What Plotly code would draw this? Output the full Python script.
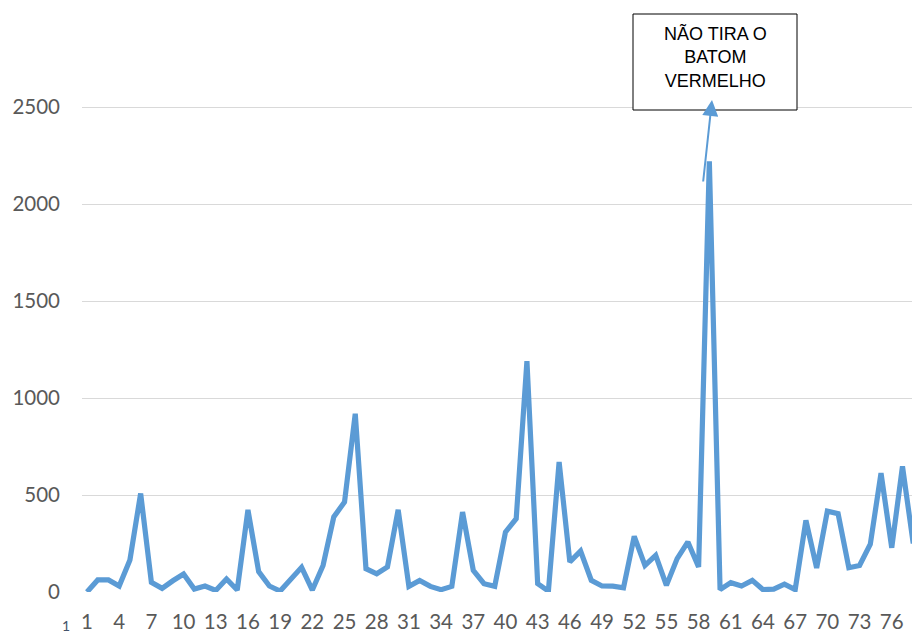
import plotly.graph_objects as go

categories = list(range(1, 79))
values = [0, 62, 62, 31, 165, 508, 50, 19, 58, 93,
          15, 31, 8, 67, 10, 423, 105, 31, 5, 67,
          127, 10, 137, 387, 464, 919, 120, 94, 129, 424,
          29, 60, 29, 12, 29, 412, 112, 43, 29, 309,
          378, 1190, 43, 5, 670, 155, 211, 60, 31, 30,
          22, 287, 137, 189, 34, 172, 258, 129, 2220, 12,
          48, 31, 60, 12, 15, 40, 12, 369, 124, 417,
          404, 125, 137, 246, 613, 228, 648, 250]
x_tick_vals = list(range(1, 78, 3))
x_tick_text = [str(v) for v in x_tick_vals]
y_tick_vals = [0, 500, 1000, 1500, 2000, 2500]
note_text = "NÃO TIRA O<br>BATOM<br>VERMELHO"

W, H = 912, 635
L, R, T, B = 82, 0, 29, 43
PW, PH = W - L - R, H - T - B
x0 = 1 - 5 / 10.73
x1 = 1 + (W - R - 87) / 10.73
y1 = (592 - T) / 0.194


def px(xp):
    return (xp - L) / PW


def py(yp):
    return (H - B - yp) / PH


fig = go.Figure()
fig.add_trace(go.Scatter(
    x=categories, y=values, mode="lines",
    line=dict(color="#5b9bd5", width=5.2),
    hoverinfo="skip", showlegend=False,
))

tickfont = dict(family="Lato, Carlito, Calibri, sans-serif", size=20.5, color="#595959")

fig.update_layout(
    width=W, height=H,
    margin=dict(l=L, r=R, t=T, b=B, pad=0),
    paper_bgcolor="white", plot_bgcolor="white",
    xaxis=dict(range=[x0, x1], tickmode="array", tickvals=x_tick_vals,
               ticktext=x_tick_text, showgrid=False, zeroline=False,
               showline=False, tickfont=tickfont, ticklabelstandoff=15),
    yaxis=dict(range=[0, y1], tickmode="array", tickvals=y_tick_vals,
               showgrid=True, gridcolor="#d9d9d9", gridwidth=1,
               zeroline=False, showline=False, tickfont=tickfont,
               ticklabelstandoff=21),
)

# note box
fig.add_shape(type="rect", xref="paper", yref="paper",
              x0=px(633), x1=px(797), y0=py(110), y1=py(14),
              line=dict(color="black", width=1), fillcolor="white", layer="above")
fig.add_annotation(
    x=px(715), y=py(57), xref="paper", yref="paper",
    text=note_text, showarrow=False, xanchor="center", yanchor="middle",
    align="center",
    font=dict(family="Liberation Sans, Arial, sans-serif", size=18, color="black"),
)
# arrow
fig.add_annotation(
    x=1 + (712 - 87) / 10.73, y=(592 - 100) / 0.194, xref="x", yref="y",
    text="", showarrow=True, ax=-9, ay=83, axref="pixel", ayref="pixel",
    arrowhead=2, arrowsize=1.6, arrowwidth=2, arrowcolor="#5b9bd5",
)
# small stray label
fig.add_annotation(
    x=px(66), y=py(625), xref="paper", yref="paper",
    text="1", showarrow=False, xanchor="center", yanchor="middle",
    font=dict(family="Lato, sans-serif", size=14, color="#44546a"),
)

fig.write_html("out.html", config={"displayModeBar": False},
               post_script="document.body.style.margin='0px';")
